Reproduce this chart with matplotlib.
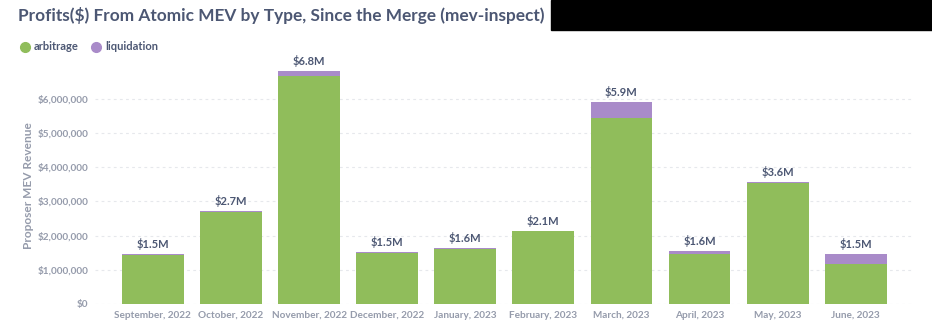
import matplotlib.pyplot as plt
import numpy as np
from matplotlib.patches import Rectangle
from matplotlib.lines import Line2D

plt.rcParams['font.family'] = ['Lato', 'DejaVu Sans']

months = ["September, 2022", "October, 2022", "November, 2022", "December, 2022",
          "January, 2023", "February, 2023", "March, 2023", "April, 2023",
          "May, 2023", "June, 2023"]
arbitrage = [1.42e6, 2.70e6, 6.67e6, 1.48e6, 1.62e6, 2.13e6, 5.44e6, 1.46e6, 3.55e6, 1.17e6]
liquidation = [0.05e6, 0.02e6, 0.15e6, 0.04e6, 0.02e6, 0.01e6, 0.47e6, 0.09e6, 0.02e6, 0.29e6]
total_labels = ["$1.5M", "$2.7M", "$6.8M", "$1.5M", "$1.6M", "$2.1M", "$5.9M", "$1.6M", "$3.6M", "$1.5M"]
yticks = [0, 1e6, 2e6, 3e6, 4e6, 5e6, 6e6]

green = "#90bd5b"
purple = "#a98bc9"
dark = "#4c5773"
gray = "#959bab"

fig = plt.figure(figsize=(9.32, 3.32), dpi=100)
ax = fig.add_axes([95 / 932, 28 / 332, 817 / 932, 236 / 332])

x = np.arange(len(months))
ax.bar(x, arbitrage, width=0.79, color=green, zorder=2)
ax.bar(x, liquidation, bottom=arbitrage, width=0.79, color=purple, zorder=2)

tops = np.array(arbitrage) + np.array(liquidation)
for xi, t, lab in zip(x, tops, total_labels):
    ax.text(xi, t + 0.12e6, lab, ha="center", va="bottom", fontsize=8,
            fontweight="bold", color=dark)

ax.set_xlim(-0.74, 9.72)
ax.set_ylim(0, 6.9e6)
ax.set_yticks(yticks)
ax.set_yticklabels(["$0"] + ["${:,.0f}".format(v) for v in yticks[1:]])
ax.set_xticks(x)
ax.set_xticklabels(months)
ax.tick_params(axis="both", length=0, labelcolor=gray)
ax.tick_params(axis="x", labelsize=7.2, pad=5)
ax.tick_params(axis="y", labelsize=7.2, pad=5)
for lab in ax.get_xticklabels() + ax.get_yticklabels():
    lab.set_fontweight("bold")
ax.grid(axis="y", color="#e6e8ec", linestyle=(0, (2.5, 3)), linewidth=0.8, zorder=0)
for s in ax.spines.values():
    s.set_visible(False)

ax.set_ylabel("Proposer MEV Revenue", fontsize=8.6, color=gray, fontweight="bold")
ax.yaxis.set_label_coords(-61 / 817, 0.5)

fig.text(18 / 932, 1 - 15 / 332, "Profits($) From Atomic MEV by Type, Since the Merge (mev-inspect)",
         ha="left", va="center", fontsize=12.4, fontweight="bold", color=dark)

handles = [Line2D([0], [0], marker="o", linestyle="", markersize=7, color=green),
           Line2D([0], [0], marker="o", linestyle="", markersize=7, color=purple)]
fig.legend(handles, ["arbitrage", "liquidation"], loc="center left",
           bbox_to_anchor=(8 / 932, 1 - 47 / 332), ncol=2, frameon=False,
           handlelength=1.2, handletextpad=0.2, columnspacing=1.0,
           labelcolor=dark, prop={"weight": "bold", "size": 8})

# black redaction block top-right
fig.patches.append(Rectangle((551 / 932, 1 - 30 / 332), 381 / 932, 30 / 332,
                             transform=fig.transFigure, color="black", zorder=5))

fig.savefig("out.png", dpi=100)
